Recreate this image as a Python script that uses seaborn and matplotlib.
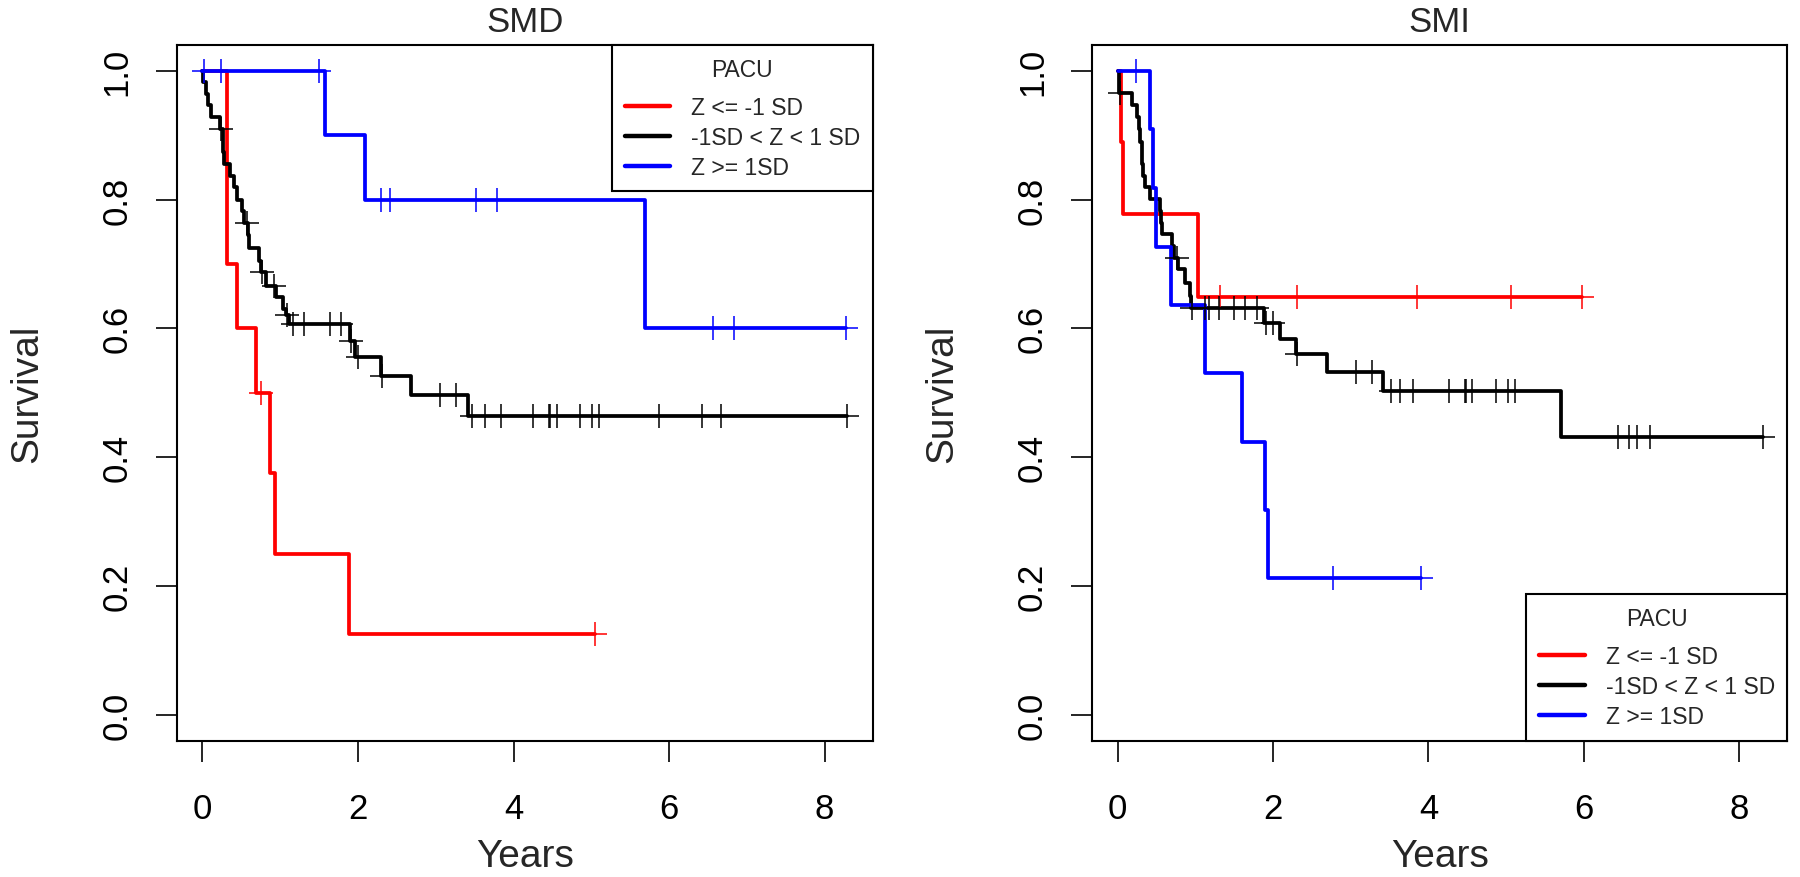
import numpy as np
import pandas as pd
import seaborn as sns
import matplotlib.pyplot as plt
from matplotlib.lines import Line2D

groups = ["Z <= -1 SD", "-1SD < Z < 1 SD", "Z >= 1SD"]
colors = ["#FF0000", "#000000", "#0000FF"]

# SMD panel: Kaplan-Meier step points (time in years, survival)
smd_low_t = [0, 0.31, 0.45, 0.685, 0.87, 0.935, 1.88, 5.05]
smd_low_s = [1.0, 0.7, 0.6, 0.5, 0.375, 0.25, 0.125, 0.125]
smd_low_cens = [0.755, 5.05]

smd_mid_t = [0, 0.01, 0.04, 0.07, 0.11, 0.22, 0.26, 0.27, 0.28, 0.36, 0.41, 0.45,
             0.51, 0.54, 0.58, 0.60, 0.73, 0.75, 0.82, 0.95, 1.04, 1.07, 1.11,
             1.90, 1.96, 2.29, 2.68, 3.42, 8.29]
smd_mid_s = [1.0, 0.982, 0.964, 0.946, 0.928, 0.909, 0.891, 0.873, 0.855, 0.837,
             0.819, 0.800, 0.782, 0.764, 0.745, 0.724, 0.705, 0.687, 0.666, 0.648,
             0.630, 0.620, 0.607, 0.581, 0.555, 0.526, 0.496, 0.464, 0.464]
smd_mid_cens = [0.24, 0.57, 0.77, 0.92, 1.09, 1.16, 1.31, 1.64, 1.78, 1.91, 2.00,
                2.31, 3.06, 3.26, 3.46, 3.63, 3.84, 4.25, 4.45, 4.47, 4.56, 4.86,
                5.01, 5.10, 5.87, 6.42, 6.67, 8.29]

smd_high_t = [0, 1.58, 2.09, 5.69, 8.27]
smd_high_s = [1.0, 0.9, 0.8, 0.6, 0.6]
smd_high_cens = [0.02, 0.24, 1.50, 2.30, 2.41, 3.52, 3.79, 6.56, 6.84, 8.27]

# SMI panel
smi_low_t = [0, 0.04, 0.065, 1.04, 5.97]
smi_low_s = [1.0, 0.889, 0.778, 0.648, 0.648]
smi_low_cens = [1.32, 2.31, 3.85, 5.06, 5.97]

smi_mid_t = [0, 0.02, 0.19, 0.25, 0.27, 0.29, 0.31, 0.33, 0.35, 0.41, 0.545, 0.56,
             0.57, 0.70, 0.725, 0.77, 0.87, 0.93, 0.94, 1.885, 2.09, 2.30, 2.69,
             3.42, 5.71, 8.30]
smi_mid_s = [1.0, 0.966, 0.946, 0.928, 0.909, 0.889, 0.855, 0.837, 0.819, 0.801,
             0.782, 0.764, 0.746, 0.728, 0.710, 0.692, 0.671, 0.651, 0.631, 0.609,
             0.583, 0.560, 0.532, 0.502, 0.431, 0.431]
smi_mid_cens = [0.03, 0.76, 0.95, 1.125, 1.17, 1.31, 1.50, 1.64, 1.79, 1.91, 2.005,
                2.31, 3.07, 3.27, 3.52, 3.64, 3.80, 4.26, 4.47, 4.48, 4.56, 4.87,
                5.02, 5.11, 6.44, 6.58, 6.69, 6.85, 8.30]

smi_high_t = [0, 0.42, 0.45, 0.49, 0.69, 1.125, 1.60, 1.90, 1.94, 3.90]
smi_high_s = [1.0, 0.909, 0.818, 0.727, 0.636, 0.530, 0.424, 0.318, 0.212, 0.212]
smi_high_cens = [0.24, 2.77, 3.90]

panels = [
    ("SMD", [(smd_low_t, smd_low_s, smd_low_cens),
             (smd_mid_t, smd_mid_s, smd_mid_cens),
             (smd_high_t, smd_high_s, smd_high_cens)], "upper right"),
    ("SMI", [(smi_low_t, smi_low_s, smi_low_cens),
             (smi_mid_t, smi_mid_s, smi_mid_cens),
             (smi_high_t, smi_high_s, smi_high_cens)], "lower right"),
]


def surv_at(times, surv, t):
    idx = np.searchsorted(times, t, side="right") - 1
    return np.array(surv)[idx]


sns.set_theme(style="ticks")
plt.rcParams["font.family"] = ["Liberation Sans", "DejaVu Sans"]

fig = plt.figure(figsize=(18, 8.78), dpi=100)
positions = [[0.0982, 0.1553, 0.3867, 0.7924], [0.6067, 0.1553, 0.3863, 0.7924]]

for pos, (title, curves, legend_loc) in zip(positions, panels):
    ax = fig.add_axes(pos)
    for (t, s, cens), col in zip(curves, colors):
        df = pd.DataFrame({"t": t, "s": s})
        sns.lineplot(data=df, x="t", y="s", ax=ax, color=col, linewidth=2.7,
                     estimator=None, sort=False, drawstyle="steps-post")
        cdf = pd.DataFrame({"t": cens, "s": surv_at(t, s, cens)})
        sns.scatterplot(data=cdf, x="t", y="s", ax=ax, color=col, marker="+",
                        s=280, linewidth=1.1, zorder=3)

    ax.set_xlim(-0.33, 8.62)
    ax.set_ylim(-0.04, 1.04)
    ax.set_xticks([0, 2, 4, 6, 8])
    ax.set_yticks([0.0, 0.2, 0.4, 0.6, 0.8, 1.0])
    ax.set_yticklabels(["0.0", "0.2", "0.4", "0.6", "0.8", "1.0"], rotation=90, va="center")
    ax.tick_params(axis="both", direction="out", length=15, width=1.2,
                   colors="black", labelsize=25)
    ax.tick_params(axis="x", pad=22)
    ax.tick_params(axis="y", pad=16)
    for sp in ax.spines.values():
        sp.set_visible(True)
        sp.set_color("black")
        sp.set_linewidth(1.5)
    ax.set_xlabel("Years", fontsize=28, labelpad=9)
    ax.set_ylabel("Survival", fontsize=28, labelpad=40)
    ax.set_title(title, fontsize=25, pad=10)

    handles = [Line2D([0], [0], color=c, linewidth=3.2) for c in colors]
    leg = ax.legend(handles, groups, title="PACU", loc=legend_loc, fontsize=16.5,
                    title_fontsize=16.5, borderaxespad=0, fancybox=False,
                    edgecolor="black", framealpha=1, handlelength=2.0,
                    handletextpad=0.9, labelspacing=0.3, borderpad=0.55)
    leg._legend_box.sep = 11
    leg.get_frame().set_linewidth(1.5)

fig.savefig("out.png", dpi=100)
